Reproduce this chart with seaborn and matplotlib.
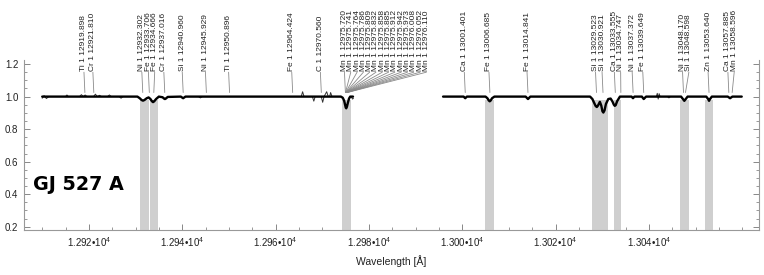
import numpy as np
import pandas as pd
import matplotlib
matplotlib.use("Agg")
import matplotlib.pyplot as plt
from matplotlib.ticker import FixedLocator, MultipleLocator, FuncFormatter
import seaborn as sns

# ---------------- data ----------------
star_name = "GJ 527 A"

# fitted/model spectrum (two segments)
seg1_wl = [12910.0, 12930.4, 12930.9, 12931.3, 12931.6, 12931.9, 12932.4, 12932.8, 12933.2,
           12933.5, 12933.75, 12934.0, 12934.4, 12935.0, 12935.8, 12936.1, 12936.3, 12936.5,
           12936.9, 12939.7, 12940.2, 12940.7, 12974.0, 12974.4, 12974.7, 12974.9, 12975.05,
           12975.15, 12975.3, 12975.5, 12975.75, 12976.0, 12976.6]
seg1_fl = [1.0, 1.0, 0.99, 0.979, 0.975, 0.979, 0.99, 0.995, 0.985,
           0.972, 0.966, 0.971, 0.985, 1.0, 0.996, 0.988, 0.985, 0.988,
           0.998, 1.0, 0.99, 1.0, 1.0, 0.993, 0.975, 0.95, 0.932,
           0.928, 0.938, 0.962, 0.988, 1.0, 1.0]
seg2_wl = [12995.9, 13000.3, 13000.65, 13001.0, 13005.0, 13005.4, 13005.7, 13005.9, 13006.1,
           13006.4, 13006.9, 13013.6, 13014.1, 13014.6, 13027.4, 13027.9, 13028.3, 13028.6,
           13028.85, 13029.1, 13029.5, 13029.8, 13030.05, 13030.25, 13030.5, 13030.8, 13031.3,
           13031.8, 13032.2, 13032.5, 13032.7, 13032.9, 13033.2, 13033.8, 13036.3, 13036.6,
           13036.9, 13038.5, 13038.9, 13039.4, 13046.9, 13047.3, 13047.6, 13047.9, 13048.3,
           13052.3, 13052.7, 13052.9, 13053.1, 13053.5, 13056.9, 13057.4, 13057.9, 13059.9]
seg2_fl = [1.0, 1.0, 0.99, 1.0, 1.0, 0.99, 0.976, 0.971, 0.976,
           0.99, 1.0, 1.0, 0.985, 1.0, 1.0, 0.985, 0.96, 0.942,
           0.936, 0.945, 0.968, 0.945, 0.91, 0.902, 0.915, 0.955, 0.985,
           0.988, 0.97, 0.95, 0.943, 0.948, 0.972, 1.0, 1.0, 0.99,
           1.0, 1.0, 0.985, 1.0, 1.0, 0.985, 0.974, 0.985, 1.0,
           1.0, 0.985, 0.974, 0.985, 1.0, 1.0, 0.99, 1.0, 1.0]

# observed-spectrum spikes (thin line), groups of points
obs_groups = [
    ([12910.0, 12910.4, 12910.9, 12911.4], [0.99, 1.006, 0.988, 1.0]),
    ([12915.0, 12915.3, 12915.6], [1.0, 1.01, 1.0]),
    ([12918.0, 12918.4, 12918.8, 12919.2, 12919.6], [1.0, 1.012, 1.0, 1.01, 1.0]),
    ([12921.0, 12921.4, 12921.8, 12922.3, 12922.7], [1.0, 1.015, 1.0, 1.008, 1.0]),
    ([12924.0, 12924.4, 12924.8], [1.0, 1.01, 1.0]),
    ([12926.5, 12926.9, 12927.3], [1.0, 0.99, 1.0]),
    ([12943.5, 12943.9, 12944.3], [1.0, 0.992, 1.0]),
    ([12965.5, 12965.8, 12966.1], [1.0, 1.03, 1.0]),
    ([12967.9, 12968.2, 12968.5], [1.0, 0.972, 1.0]),
    ([12969.8, 12970.1, 12970.4, 12970.96, 12971.3], [1.0, 0.965, 1.0, 1.03, 1.0]),
    ([12971.6, 12971.8, 12972.1], [1.0, 1.025, 1.0]),
    ([12976.2, 12976.5, 12976.7], [1.0, 0.985, 0.99]),
    ([13041.6, 13041.8, 13042.0, 13042.2, 13042.4], [1.0, 1.02, 0.985, 1.018, 1.0]),
    ([13044.0, 13044.3, 13044.6], [1.0, 0.992, 1.0]),
]

# line identifications
line_species = ["Ti 1", "Cr 1", "Ni 1", "Fe 1", "Fe 1", "Cr 1", "Si 1", "Ni 1", "Ti 1",
                "Fe 1", "C 1"] + ["Mn 1"] * 14 + \
               ["Ca 1", "Fe 1", "Fe 1", "Si 1", "Si 1", "Ca 1", "Ni 1", "Ni 1", "Fe 1",
                "Ni 1", "Si 1", "Zn 1", "Ca 1", "Mn 1"]
line_wl = [12919.898, 12921.810, 12932.302, 12933.706, 12934.666, 12937.016, 12940.960,
           12945.929, 12950.896, 12964.424, 12970.560,
           12975.720, 12975.741, 12975.764, 12975.786, 12975.809, 12975.832, 12975.858,
           12975.885, 12975.912, 12975.942, 12975.973, 12976.008, 12976.052, 12976.110,
           13001.401, 13006.685, 13014.841, 13029.523, 13030.921, 13033.555, 13034.747,
           13037.372, 13039.649, 13048.170, 13048.598, 13053.640, 13057.885, 13058.596]

# masked (fitted) regions
mask_lo = [12931.0, 12933.1, 12974.2, 13004.9, 13027.9, 13032.5, 13046.7, 13052.0]
mask_hi = [12932.9, 12934.8, 12976.2, 13006.8, 13031.3, 13034.1, 13048.6, 13053.8]

xtick_vals = [12920, 12940, 12960, 12980, 13000, 13020, 13040]

# ---------------- figure ----------------
sns.set_theme(style="white")
plt.rcParams["font.family"] = ["Liberation Sans", "DejaVu Sans"]
plt.rcParams["mathtext.fontset"] = "custom"
plt.rcParams["mathtext.rm"] = "Liberation Sans"

fig = plt.figure(figsize=(7.64, 2.75), dpi=100)
ax = fig.add_axes([24 / 764, 1 - 230 / 275, (759 - 24) / 764, (230 - 60) / 275])

YMIN, YMAX = 0.18, 1.225
ax.set_xlim(12906.1, 13063.6)
ax.set_ylim(YMIN, YMAX)

# mask bands
for lo, hi in zip(mask_lo, mask_hi):
    ax.fill_between([lo, hi], [YMIN, YMIN], [0.98, 0.98], color="#cfcfcf", lw=0, zorder=1)

# observed spikes
obs_rows = []
for gi, (w, f) in enumerate(obs_groups):
    for a, b in zip(w, f):
        obs_rows.append({"wl": a, "fl": b, "seg": gi})
obs_df = pd.DataFrame(obs_rows)
sns.lineplot(data=obs_df, x="wl", y="fl", units="seg", estimator=None, sort=False,
             color="#333333", lw=0.7, ax=ax, zorder=3)

# model spectrum
mod_df = pd.concat([
    pd.DataFrame({"wl": seg1_wl, "fl": seg1_fl, "seg": 0}),
    pd.DataFrame({"wl": seg2_wl, "fl": seg2_fl, "seg": 1}),
])
sns.lineplot(data=mod_df, x="wl", y="fl", units="seg", estimator=None, sort=False,
             color="black", lw=1.7, ax=ax, zorder=4)

# labels with leaders
SHIFT = -0.75          # apparent offset of features in the picture
LAB_OFF = -0.95
SEP = 1.35
LAB_Y = 1.15
TGT_Y = 1.025
lab_x = []
prev = -1e9
for w in line_wl:
    x = max(w + LAB_OFF, prev + SEP)
    lab_x.append(x)
    prev = x
for sp, w, lx in zip(line_species, line_wl, lab_x):
    ax.plot([lx, w + SHIFT], [LAB_Y, TGT_Y], color="#8a8a8a", lw=0.6, zorder=2,
            clip_on=False)
    ax.text(lx, LAB_Y + 0.005, f"{sp} {w:.3f}", rotation=90, ha="center", va="bottom",
            fontsize=6, color="#222222", clip_on=False)

# star name
ax.text(12908.0, 0.423, star_name, fontsize=13.8, fontweight="bold",
        family="DejaVu Sans", color="black", ha="left", va="baseline")

# axes styling
ax.xaxis.set_major_locator(FixedLocator(xtick_vals))
ax.xaxis.set_minor_locator(MultipleLocator(5))
ax.xaxis.set_major_formatter(FuncFormatter(lambda v, p: f"{v / 1e4:.3f}\u2022" + r"10$^{4}$"))
ax.yaxis.set_major_locator(MultipleLocator(0.2))
ax.yaxis.set_minor_locator(MultipleLocator(0.05))
ax.yaxis.set_major_formatter(FuncFormatter(lambda v, p: f"{v:.1f}"))
ax.tick_params(which="both", direction="in", colors="#888888", labelcolor="#222222",
               labelsize=7, right=True, top=False, left=True, bottom=True,
               labelright=False)
ax.tick_params(which="major", length=4, width=0.7, pad=4)
ax.tick_params(which="minor", length=2.5, width=0.6)
for s in ["left", "bottom", "right"]:
    ax.spines[s].set_color("#999999")
    ax.spines[s].set_linewidth(0.8)
ax.spines["top"].set_visible(False)
ax.set_xlabel("Wavelength [Å]", fontsize=7.5, color="#222222", labelpad=4)
ax.set_ylabel("")
ax.grid(False)

fig.savefig("out.png", dpi=100)
